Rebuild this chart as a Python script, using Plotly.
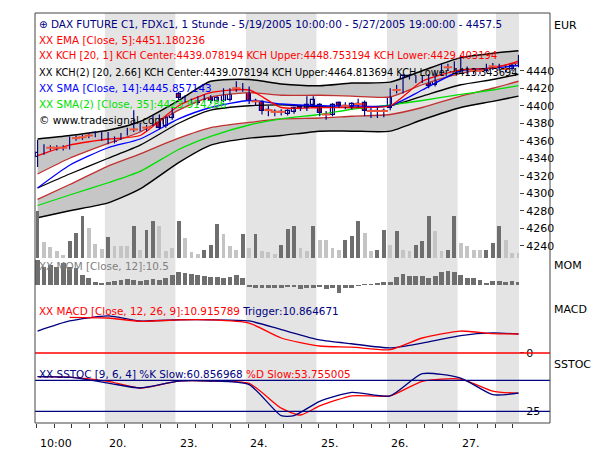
import plotly.graph_objects as go
from plotly.subplots import make_subplots

bars = list(range(76))
opens = [4341,4346,4352,4352,4352,4352,4363,4364,4366,4366,4369,4368,4359,4363,4368,4373,4373,4375,4379,4386,4377,4386,
         4414,4409,4406,4403,4407,4410,4406,4406,4407,4420,4418,4420,4405,4404,4395,4393,4393,4391,4393,4399,4397,4401,
         4401,4390,4390,4403,4400,4399,4402,4403,4394,4394,4394,4397,4418,4417,4434,4433,4428,4433,4424,4436,4444,4443,
         4449,4443,4440,4440,4440,4445,4446,4442,4442,4446]
closes = [4346,4353,4352,4352,4352,4363,4363,4364,4366,4369,4363,4359,4362,4367,4373,4373,4378,4375,4386,4375,4386,4395,
          4409,4406,4404,4408,4411,4406,4409,4418,4418,4420,4424,4406,4405,4394,4395,4393,4393,4394,4397,4396,4401,4407,
          4392,4390,4401,4400,4400,4402,4402,4394,4394,4394,4394,4418,4418,4434,4432,4429,4432,4423,4436,4446,4444,4449,
          4443,4439,4440,4440,4446,4445,4443,4442,4445,4457]
highs = [4361,4356,4355,4355,4355,4365,4366,4367,4369,4371,4371,4370,4365,4369,4375,4395,4380,4378,4389,4390,4388,4398,
         4416,4412,4408,4411,4413,4412,4411,4420,4420,4428,4426,4422,4408,4406,4400,4396,4396,4396,4399,4401,4411,4411,
         4403,4394,4403,4405,4404,4404,4408,4406,4398,4398,4397,4420,4424,4436,4436,4435,4434,4436,4438,4448,4448,4451,
         4458,4445,4443,4443,4448,4449,4448,4446,4448,4458]
lows = [4330,4344,4349,4349,4349,4350,4360,4361,4363,4364,4360,4356,4357,4361,4366,4370,4371,4371,4377,4373,4375,4384,
        4405,4404,4402,4401,4405,4403,4404,4404,4405,4416,4416,4402,4400,4390,4388,4388,4389,4389,4391,4394,4394,4399,
        4388,4384,4388,4398,4396,4396,4398,4388,4386,4386,4387,4395,4414,4414,4430,4426,4426,4420,4422,4434,4440,4440,
        4438,4436,4436,4436,4438,4441,4440,4438,4440,4444]
volume = [47,16,11,7,3,17,25,42,30,14,9,21,12,12,12,32,8,28,37,32,7,10,37,20,6,4,8,13,34,24,12,8,24,10,24,7,6,4,13,29,
          32,10,7,32,18,18,10,8,18,22,37,25,7,8,28,13,27,8,7,13,17,42,27,7,8,42,15,12,8,8,8,15,32,18,5,5]
vol_dark = [1,0,0,0,0,1,1,1,0,0,0,1,0,0,0,1,0,1,1,0,0,0,1,0,0,0,1,1,1,0,0,0,1,0,1,0,0,0,1,1,
            1,0,0,1,0,0,0,0,1,1,1,0,0,1,1,0,1,0,0,1,1,1,0,0,1,1,0,0,0,0,1,1,1,0,0,0]
mom = [75,55,60,55,65,55,50,30,20,8,5,10,13,15,18,15,13,15,18,15,20,30,38,35,33,30,28,25,24,20,25,30,20,
       -5,-8,-8,-8,-10,-8,-6,-5,-12,-8,-10,-5,-12,-8,-25,-8,-10,-3,2,3,5,8,
       10,25,33,28,28,28,22,28,40,42,40,30,20,22,15,5,12,12,8,12,10]

ind_x = [0,5,11,16,22,27,33,38,44,49,55,60,66,71,75]
kch2_upper = [4362,4366,4372,4382,4406,4428,4430,4425,4423,4426,4427,4440,4455,4460,4463]
kch1_upper = [4322,4340,4357,4370,4395,4410,4415,4412,4412,4411,4410,4424,4437,4444,4449]
kch_center = [4306,4322,4340,4355,4380,4395,4400,4401,4399,4398,4400,4411,4424,4430,4436]
kch1_lower = [4293,4310,4331,4345,4363,4375,4381,4385,4386,4388,4390,4398,4411,4420,4428]
kch2_lower = [4272,4280,4289,4305,4335,4355,4363,4366,4371,4371,4371,4384,4398,4405,4411]
sma35 = [4286,4298,4312,4325,4350,4365,4378,4385,4390,4396,4401,4406,4413,4418,4423]
sma14 = [4306,4332,4352,4362,4385,4398,4406,4402,4400,4400,4400,4418,4440,4443,4446]
ema5 = [4343,4355,4362,4366,4400,4415,4418,4398,4398,4398,4400,4428,4441,4443,4451]

trig_x = ind_x
trigger = [12.6,18.4,21.3,18.4,19.1,19.1,18.4,13.4,7.5,5.3,2.9,5.7,10,11.5,10.9]
macd_x = [5,11,16,22,27,33,38,44,49,55,60,66,71,75]
macd = [20.5,20.1,18.2,19,19,17.2,8.6,4,3.4,1.9,8.6,12.6,11.1,10.9]
k_x = [0,5,11,16,22,27,33,38,40,44,49,55,60,66,71,75]
k_slow = [81,80,70.6,62.6,73.8,73.8,68,18,18,41,55.6,50,85.6,78.7,51.8,54.5]
d_x = [0,5,11,16,22,27,33,38,41,44,49,55,60,66,71,75]
d_slow = [81,80,73.4,62.6,73.8,73.8,70,30,19,33.6,50,50,73.4,77,57.7,53.8]

day_ticks = [0, 10.85, 21.85, 32.85, 43.85, 54.85, 65.85]
day_labels = ["10:00", "20.", "23.", "24.", "25.", "26.", "27."]
shaded = [(10.5, 21.5), (32.5, 43.5), (54.5, 65.5), (71.5, 76)]
price_ticks = [4240,4260,4280,4300,4320,4340,4360,4380,4400,4420,4440]

NAVY = "#000080"
fig = make_subplots(rows=4, cols=1, shared_xaxes=True, vertical_spacing=0,
                    row_heights=[245, 40, 60, 65],
                    specs=[[{"secondary_y": True}], [{}], [{}], [{}]])

fig.add_trace(go.Bar(x=bars, y=volume, marker_color=["#6e6e6e" if d else "#c4c4c4" for d in vol_dark],
                     marker_line_width=0, width=0.6), row=1, col=1, secondary_y=True)

GRAY = "#c6c6c6"
SP = dict(shape="spline", smoothing=0.6)
fig.add_trace(go.Scatter(x=ind_x, y=kch2_upper, mode="lines", line=dict(color="black", width=1.5, **SP)), row=1, col=1)
fig.add_trace(go.Scatter(x=ind_x, y=kch1_upper, mode="lines", line=dict(color="#c03030", width=1.3, **SP),
                         fill="tonexty", fillcolor=GRAY), row=1, col=1)
fig.add_trace(go.Scatter(x=ind_x, y=kch1_lower, mode="lines", line=dict(color="#c03030", width=1.3, **SP)), row=1, col=1)
fig.add_trace(go.Scatter(x=ind_x, y=kch2_lower, mode="lines", line=dict(color="black", width=1.5, **SP),
                         fill="tonexty", fillcolor=GRAY), row=1, col=1)
fig.add_trace(go.Scatter(x=ind_x, y=kch_center, mode="lines", line=dict(color="black", width=1.3, **SP)), row=1, col=1)
fig.add_trace(go.Scatter(x=ind_x, y=sma35, mode="lines", line=dict(color="#00e000", width=1.3, **SP)), row=1, col=1)
fig.add_trace(go.Scatter(x=ind_x, y=sma14, mode="lines", line=dict(color="#0000ff", width=1.3, **SP)), row=1, col=1)
fig.add_trace(go.Scatter(x=ind_x, y=ema5, mode="lines", line=dict(color="#ff0000", width=1.3, **SP)), row=1, col=1)

wx, wy = [], []
for i in bars:
    wx += [i, i, None]
    wy += [lows[i], highs[i], None]
fig.add_trace(go.Scatter(x=wx, y=wy, mode="lines", line=dict(color=NAVY, width=1.2)), row=1, col=1)
fig.add_trace(go.Bar(x=bars, base=opens, y=[c - o for o, c in zip(opens, closes)], width=0.62,
                     marker=dict(color=["white" if c >= o else "#ff0000" for o, c in zip(opens, closes)],
                                 line=dict(color=NAVY, width=1.2))), row=1, col=1)
doji = [i for i in bars if opens[i] == closes[i]]
fig.add_trace(go.Scatter(x=doji, y=[closes[i] for i in doji], mode="markers",
                         marker=dict(symbol="line-ew-open", size=6, line=dict(color=NAVY, width=2))), row=1, col=1)

fig.add_trace(go.Bar(x=bars, y=mom, marker_color="#6e6e6e", marker_line_width=0, width=0.75), row=2, col=1)

fig.add_trace(go.Scatter(x=trig_x, y=trigger, mode="lines", line=dict(color=NAVY, width=1.3, **SP)), row=3, col=1)
fig.add_trace(go.Scatter(x=macd_x, y=macd, mode="lines", line=dict(color="#ff0000", width=1.3, **SP)), row=3, col=1)

fig.add_trace(go.Scatter(x=d_x, y=d_slow, mode="lines", line=dict(color="#ff0000", width=1.3, **SP)), row=4, col=1)
fig.add_trace(go.Scatter(x=k_x, y=k_slow, mode="lines", line=dict(color=NAVY, width=1.3, **SP)), row=4, col=1)

shapes = []
for a, b in shaded:
    shapes.append(dict(type="rect", xref="x", yref="paper", x0=a, x1=b, y0=0, y1=1,
                       fillcolor="#e4e4e4", line_width=0, layer="below"))
shapes.append(dict(type="line", xref="paper", yref="y4", x0=0, x1=1, y0=0, y1=0, line=dict(color="#ff0000", width=1.5)))
for lv in (25, 75):
    shapes.append(dict(type="line", xref="paper", yref="y5", x0=0, x1=1, y0=lv, y1=lv, line=dict(color=NAVY, width=1.2)))
shapes.append(dict(type="rect", xref="paper", yref="paper", x0=0, x1=1, y0=0, y1=1, line=dict(color="#444", width=1)))

F = "DejaVu Sans"
W0, W1, H0, H1 = 27, 542, 5, 415
def px(x): return (x - W0) / (W1 - W0)
def py(y): return (H1 - y) / (H1 - H0)

legend = [("\u2295 DAX FUTURE C1, FDXc1, 1 Stunde - 5/19/2005 10:00:00 - 5/27/2005 19:00:00 - 4457.5", NAVY, 10.4),
          ("XX EMA [Close, 5]:4451.180236", "#ff0000", 10.4),
          ("XX KCH [20, 1] KCH Center:4439.078194 KCH Upper:4448.753194 KCH Lower:4429.403194", "#ff0000", 10),
          ("XX KCH(2) [20, 2.66] KCH Center:4439.078194 KCH Upper:4464.813694 KCH Lower:4413.343694", "black", 9.8),
          ("XX SMA [Close, 14]:4445.857143", "#0000ff", 10.4),
          ("XX SMA(2) [Close, 35]:4423.914286", "#00e000", 10.4),
          ("\u00a9 www.tradesignal.com", "black", 10.4)]
annots = []
for i, (t, c, s) in enumerate(legend):
    annots.append(dict(text=t, x=px(29), y=py(16 + 16 * i), xref="paper", yref="paper", showarrow=False,
                       font=dict(family=F, size=s, color=c), xanchor="left", yanchor="middle"))
FS = 10.4
annots.append(dict(text="XX MOM [Close, 12]:10.5", x=px(29), y=py(258), xref="paper", yref="paper", showarrow=False,
                   font=dict(family=F, size=FS, color="#808080"), xanchor="left", yanchor="middle"))
annots.append(dict(text="<span style='color:#ff0000'>XX MACD [Close, 12, 26, 9]:10.915789</span> Trigger:10.864671",
                   x=px(29), y=py(303), xref="paper", yref="paper", showarrow=False,
                   font=dict(family=F, size=FS, color=NAVY), xanchor="left", yanchor="middle"))
annots.append(dict(text="XX SSTOC [9, 6, 4] %K Slow:60.856968 <span style='color:#ff0000'>%D Slow:53.755005</span>",
                   x=px(29), y=py(366), xref="paper", yref="paper", showarrow=False,
                   font=dict(family=F, size=FS, color=NAVY), xanchor="left", yanchor="middle"))
for t, y in [("EUR", 17), ("MOM", 257), ("MACD", 301), ("SSTOC", 356)]:
    annots.append(dict(text=t, x=px(544), y=py(y), xref="paper", yref="paper", showarrow=False,
                       font=dict(family=F, size=11, color="black"), xanchor="left", yanchor="middle"))
for v, t in zip(day_ticks, day_labels):
    annots.append(dict(text=t, x=v, y=py(435), xref="x", yref="paper", showarrow=False,
                       font=dict(family=F, size=11, color="black"), xanchor="left", yanchor="middle"))

fig.update_layout(width=600, height=450, margin=dict(l=W0, r=600 - W1, t=H0, b=450 - H1),
                  paper_bgcolor="white", plot_bgcolor="white", showlegend=False, barmode="overlay", bargap=0,
                  shapes=shapes, annotations=annots, font=dict(family=F, size=11, color="black"))
minor_ticks = [i * 2.75 - 0.15 for i in range(28)]
for r in range(1, 5):
    fig.update_xaxes(row=r, col=1, range=[-0.4, 75.1], showgrid=False, zeroline=False, showticklabels=False, ticks="")
fig.update_xaxes(row=4, col=1, tickmode="array", tickvals=minor_ticks, ticks="outside", ticklen=4, tickcolor="#333")
fig.update_yaxes(row=1, col=1, secondary_y=False, range=[4226, 4506], side="right", tickvals=price_ticks,
                 ticks="outside", ticklen=4, showgrid=False, zeroline=False, tickfont=dict(size=11))
fig.update_yaxes(row=1, col=1, secondary_y=True, range=[0, 245], visible=False)
fig.update_yaxes(row=2, col=1, range=[-39, 81], side="right", showticklabels=False, ticks="", showgrid=False,
                 zeroline=False)
fig.update_yaxes(row=3, col=1, range=[-2.9, 31.6], side="right", tickvals=[0], ticks="outside", ticklen=4,
                 showgrid=False, zeroline=False)
fig.update_yaxes(row=4, col=1, range=[6.1, 111], side="right", tickvals=[25], ticks="outside", ticklen=4,
                 showgrid=False, zeroline=False)
fig.write_html("out.html")
